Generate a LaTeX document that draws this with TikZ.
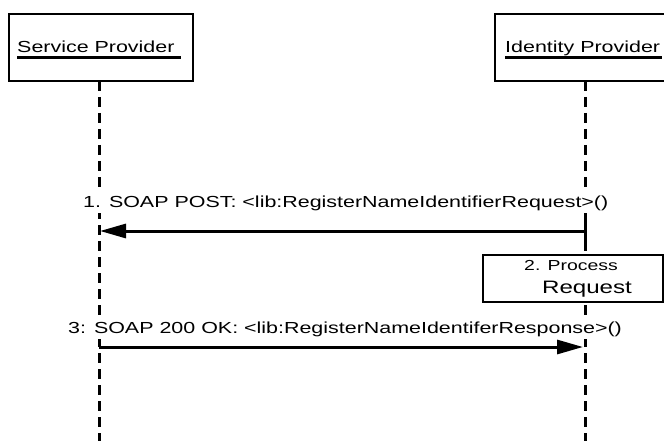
\documentclass[tikz,border=0pt]{standalone}
\usepackage{fontspec}
\setmainfont{Liberation Sans}[FakeStretch=1.34]
\usetikzlibrary{arrows.meta}
\tikzset{
  lbl/.style={inner sep=0pt, anchor=base west, font=\fontsize{16}{19}\selectfont},
  msglbl/.style={lbl, fill=white, inner xsep=1pt, inner ysep=3pt},
  actorbox/.style={draw, line width=1.4pt, fill=white, inner sep=0pt},
  lifeline/.style={line width=3pt, dash pattern=on 10pt off 6pt},
  msg/.style={line width=3pt, -{Triangle[length=26pt,width=14pt]}},
  uline/.style={line width=3pt},
}
\begin{document}
\begin{tikzpicture}[x=1pt, y=-1pt]
\useasboundingbox (0,0) rectangle (664,441);
\clip (0,0) rectangle (664,441);

% lifeline anchors
\coordinate (spTop) at (99,81);
\coordinate (spBot) at (99,441);
\coordinate (idTop) at (585,81);
\coordinate (idBot) at (585,441);

% lifelines
\draw[lifeline] (spTop) -- (spBot);
\draw[lifeline] (idTop) -- (idBot);

% participant boxes
\node[actorbox, minimum width=184pt, minimum height=67pt] (sp) at (101,47.5) {};
\node[actorbox, minimum width=172pt, minimum height=67pt] (idp) at (581,47.5) {};
\node[lbl] (spName) at (17,53) {Service Provider};
\node[lbl] (idName) at (505,53) {Identity Provider};
\coordinate (spU1) at (17,58);  \coordinate (spU2) at (181,58);
\coordinate (idU1) at (505,58); \coordinate (idU2) at (662,58);
\draw[uline] (spU1) -- (spU2);
\draw[uline] (idU1) -- (idU2);

% message 1
\node[msglbl] (m1) at (82,207) {1. SOAP POST: <lib:RegisterNameIdentifierRequest>()};
\coordinate (m1a) at (585,231);
\coordinate (m1b) at (100,231);
\draw[msg] (m1a) -- (m1b);
\coordinate (actA) at (585,217);
\coordinate (actB) at (585,244);
\draw[line width=3pt] (actA) -- (actB);

% step 2
\node[actorbox, minimum width=180pt, minimum height=47pt] (proc) at (573,278.5) {};
\node[inner sep=0pt, anchor=base, font=\fontsize{14.5}{17}\selectfont] (p1) at (571,270) {2. Process};
\node[inner sep=0pt, anchor=base, font=\fontsize{18}{21}\selectfont] (p2) at (587,293) {Request};

% message 3
\node[msglbl] (m3) at (67,333) {3: SOAP 200 OK: <lib:RegisterNameIdentiferResponse>()};
\coordinate (m3a) at (99,347);
\coordinate (m3b) at (583,347);
\draw[msg] (m3a) -- (m3b);
\end{tikzpicture}
\end{document}
